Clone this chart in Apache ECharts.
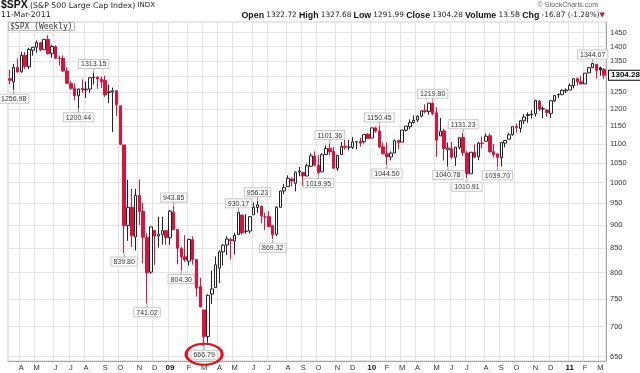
<!DOCTYPE html>
<html><head><meta charset="utf-8">
<script src="https://cdn.jsdelivr.net/npm/echarts@6/dist/echarts.min.js"></script>
<style>html,body{margin:0;padding:0;background:#fff}#c{width:640px;height:373px}</style>
</head><body><div id="c"></div>
<script>
// Weekly candles, dated by the last trading day of each week
const weeks = [
'2008-03-14','2008-03-20','2008-03-28','2008-04-04','2008-04-11','2008-04-18','2008-04-25','2008-05-02','2008-05-09','2008-05-16','2008-05-23','2008-05-30','2008-06-06','2008-06-13','2008-06-20','2008-06-27','2008-07-03','2008-07-11','2008-07-18','2008-07-25','2008-08-01','2008-08-08','2008-08-15','2008-08-22','2008-08-29','2008-09-05','2008-09-12','2008-09-19','2008-09-26','2008-10-03','2008-10-10','2008-10-17','2008-10-24','2008-10-31','2008-11-07','2008-11-14','2008-11-21','2008-11-28','2008-12-05','2008-12-12','2008-12-19','2008-12-26',
'2009-01-02','2009-01-09','2009-01-16','2009-01-23','2009-01-30','2009-02-06','2009-02-13','2009-02-20','2009-02-27','2009-03-06','2009-03-13','2009-03-20','2009-03-27','2009-04-03','2009-04-09','2009-04-17','2009-04-24','2009-05-01','2009-05-08','2009-05-15','2009-05-22','2009-05-29','2009-06-05','2009-06-12','2009-06-19','2009-06-26','2009-07-02','2009-07-10','2009-07-17','2009-07-24','2009-07-31','2009-08-07','2009-08-14','2009-08-21','2009-08-28','2009-09-04','2009-09-11','2009-09-18','2009-09-25','2009-10-02','2009-10-09','2009-10-16','2009-10-23','2009-10-30','2009-11-06','2009-11-13','2009-11-20','2009-11-27','2009-12-04','2009-12-11','2009-12-18','2009-12-24','2009-12-31',
'2010-01-08','2010-01-15','2010-01-22','2010-01-29','2010-02-05','2010-02-12','2010-02-19','2010-02-26','2010-03-05','2010-03-12','2010-03-19','2010-03-26','2010-04-01','2010-04-09','2010-04-16','2010-04-23','2010-04-30','2010-05-07','2010-05-14','2010-05-21','2010-05-28','2010-06-04','2010-06-11','2010-06-18','2010-06-25','2010-07-02','2010-07-09','2010-07-16','2010-07-23','2010-07-30','2010-08-06','2010-08-13','2010-08-20','2010-08-27','2010-09-03','2010-09-10','2010-09-17','2010-09-24','2010-10-01','2010-10-08','2010-10-15','2010-10-22','2010-10-29','2010-11-05','2010-11-12','2010-11-19','2010-11-26','2010-12-03','2010-12-10','2010-12-17','2010-12-23','2010-12-31',
'2011-01-07','2011-01-14','2011-01-21','2011-01-28','2011-02-04','2011-02-11','2011-02-18','2011-02-25','2011-03-04','2011-03-11'
];
const opens = [
1293.2,1283.2,1329.8,1315.9,1370.2,1332.2,1387.7,1397.9,1413.9,1389.4,1425.3,1375.9,1400.1,1360.8,1360.0,1317.9,1278.1,1262.9,1239.5,1261.8,1257.8,1260.3,1296.3,1298.1,1292.2,1287.8,1249.5,1250.9,1255.4,1209.1,1097.6,899.2,940.5,874.3,968.7,931.0,873.2,801.2,888.6,876.0,879.7,887.9,
872.4,929.2,890.4,849.6,832.5,823.1,868.2,826.8,773.2,729.6,683.3,758.8,771.0,809.1,842.5,856.9,868.3,865.2,879.2,922.8,886.1,887.0,923.3,940.4,943.4,918.1,919.0,898.6,880.0,940.6,979.6,990.2,1008.9,998.2,1026.6,1025.2,1016.4,1041.0,1067.9,1043.7,1026.9,1072.0,1088.2,1080.4,1036.2,1072.0,1094.1,1091.5,1091.1,1105.5,1107.0,1106.4,1127.3,
1116.6,1145.0,1136.0,1092.4,1073.9,1065.5,1075.9,1110.0,1105.4,1138.4,1148.5,1160.0,1167.7,1178.7,1194.9,1192.1,1217.1,1188.6,1122.3,1136.5,1084.8,1087.3,1064.9,1091.2,1117.7,1076.2,1022.1,1077.2,1066.0,1102.9,1107.5,1122.8,1079.3,1073.4,1062.9,1102.6,1113.4,1126.1,1148.6,1143.5,1165.3,1180.5,1184.7,1185.7,1223.2,1200.4,1196.7,1186.6,1224.0,1242.5,1243.9,1254.7,
1257.6,1270.8,1293.2,1283.3,1276.5,1311.9,1329.6,1340.4,1328.6,1322.72
];
const highs = [
1321.7,1341.5,1359.7,1380.9,1381.0,1395.9,1399.1,1421.6,1415.8,1425.8,1440.2,1406.3,1404.1,1369.0,1370.6,1330.4,1285.4,1278.5,1262.3,1291.2,1284.4,1297.9,1313.15,1300.7,1300.7,1303.0,1274.4,1265.1,1255.5,1209.1,1097.6,1006.9,985.4,984.4,1007.5,951.0,882.3,896.3,888.6,918.9,918.8,887.9,
934.7,943.85,890.4,852.5,877.9,870.7,875.0,826.8,790.2,729.6,758.3,804.5,832.9,845.6,858.4,875.6,871.8,883.0,930.17,922.8,924.6,920.0,951.7,956.23,943.4,928.0,931.9,898.6,943.0,979.8,996.7,1018.0,1013.1,1027.6,1039.5,1025.2,1048.2,1074.8,1080.2,1069.6,1075.3,1096.6,1101.36,1091.8,1071.5,1105.4,1113.7,1111.1,1119.1,1108.0,1117.7,1126.5,1130.4,
1145.4,1148.4,1150.45,1103.7,1104.7,1080.0,1112.4,1112.0,1139.0,1150.0,1169.2,1180.7,1181.4,1194.7,1213.9,1217.3,1219.80,1205.1,1173.6,1141.8,1104.3,1105.7,1092.0,1119.1,1131.23,1080.8,1078.2,1099.1,1106.4,1120.9,1128.8,1129.2,1100.1,1074.8,1105.1,1110.9,1131.5,1148.9,1157.2,1167.7,1184.4,1189.4,1196.1,1227.1,1227.1,1207.4,1198.9,1225.6,1241.0,1246.7,1259.4,1262.6,
1278.2,1293.2,1296.1,1302.7,1311.0,1330.0,1344.07,1340.4,1332.3,1327.68
];
const lows = [
1274.9,1256.98,1312.8,1312.3,1324.4,1324.4,1369.2,1379.5,1384.5,1388.3,1373.1,1362.1,1358.3,1335.5,1314.8,1277.7,1257.6,1225.4,1200.44,1248.6,1233.1,1248.2,1274.6,1261.1,1264.0,1236.3,1217.2,1133.5,1179.3,1097.6,839.80,865.8,852.9,845.3,899.7,818.7,741.02,798.0,815.7,851.4,857.7,857.1,
857.3,888.3,817.0,804.30,821.7,814.0,816.0,754.3,734.5,666.79,672.9,740.5,771.0,779.8,814.5,836.0,826.8,836.9,879.2,878.9,881.0,881.5,923.3,927.9,903.8,888.9,896.1,869.32,875.9,940.6,971.9,990.2,990.4,978.5,1016.1,991.0,1016.4,1039.5,1041.2,1019.95,1026.9,1072.0,1070.5,1033.4,1029.4,1072.0,1085.0,1083.0,1086.3,1085.9,1093.0,1101.4,1114.8,
1116.6,1131.4,1090.2,1071.6,1044.50,1056.5,1075.9,1086.0,1105.4,1134.6,1141.4,1156.5,1161.2,1175.1,1186.9,1183.7,1181.6,1065.8,1122.3,1055.9,1040.78,1060.5,1042.2,1085.7,1067.9,1010.91,1022.1,1063.3,1056.9,1088.0,1107.5,1076.6,1063.9,1039.70,1040.9,1091.2,1113.4,1122.8,1131.9,1131.9,1155.7,1159.7,1171.7,1177.7,1194.1,1173.0,1176.9,1173.6,1220.0,1232.9,1240.9,1248.2,
1257.6,1262.7,1271.3,1275.8,1276.5,1311.7,1326.9,1294.3,1302.6,1291.99
];
const closes = [
1288.1,1329.5,1315.2,1370.4,1332.8,1390.3,1397.8,1413.9,1388.3,1425.4,1375.9,1400.4,1360.7,1360.0,1317.9,1278.4,1262.9,1239.5,1260.7,1257.8,1260.3,1296.3,1298.2,1292.2,1282.8,1242.3,1251.7,1255.1,1213.3,1099.2,899.2,940.6,876.8,968.8,931.0,873.3,800.0,896.2,876.1,879.7,887.9,872.8,
931.8,890.4,850.1,832.0,825.9,868.6,826.8,770.1,735.1,683.4,756.6,768.5,815.9,842.5,856.6,869.6,866.2,877.5,929.2,882.9,887.0,919.1,940.1,946.2,921.2,918.9,896.4,879.1,940.4,979.3,987.5,1010.5,1004.1,1026.1,1028.9,1016.4,1042.7,1068.3,1044.4,1025.2,1071.5,1087.7,1079.6,1036.2,1069.3,1093.5,1091.4,1091.5,1106.0,1106.4,1102.5,1126.5,1115.1,
1145.0,1136.0,1091.8,1073.9,1066.2,1075.5,1109.2,1104.5,1138.7,1150.0,1159.9,1166.6,1178.1,1194.4,1192.1,1217.3,1186.7,1110.9,1135.7,1087.7,1089.4,1064.9,1091.6,1117.5,1076.8,1022.6,1078.0,1064.9,1102.7,1101.6,1121.6,1079.3,1071.7,1064.6,1104.5,1109.6,1125.6,1148.7,1146.2,1165.2,1176.2,1183.1,1183.3,1225.9,1199.2,1199.7,1189.4,1224.7,1240.4,1243.9,1256.8,1257.6,
1271.5,1293.2,1283.4,1276.3,1310.9,1329.2,1343.0,1319.9,1321.2,1304.28
];
const yTicks = [650,700,750,800,850,900,950,1000,1050,1100,1150,1200,1250,1300,1350,1400,1450];
const monthLetters = ['J','F','M','A','M','J','J','A','S','O','N','D'];
// annotated swing highs / lows (week index, value)
const annoIdx = [1,18,22,30,36,43,45,51,60,65,69,81,84,97,99,111,115,119,120,128,153];
const annoVal = [1256.98,1200.44,1313.15,839.80,741.02,943.85,804.30,666.79,930.17,956.23,869.32,1019.95,1101.36,1150.45,1044.50,1219.80,1040.78,1131.23,1010.91,1039.70,1344.07];
const circledValue = 666.79;
const header = {open:1322.72, high:1327.68, low:1291.99, close:1304.28, volume:'13.5B', chg:-16.87, chgPct:-1.28};

const RED = '#e0103a', BLACK = '#222';
const candleData = weeks.map((d,i)=>{
  const o=opens[i], c=closes[i];
  const prev = i>0 ? closes[i-1] : o;
  const col = c >= prev ? BLACK : RED;
  const fill = c < o ? col : '#fff';
  return {value:[o,c,lows[i],highs[i]], itemStyle:{color:fill,color0:fill,borderColor:col,borderColor0:col,borderWidth:1}};
});
const monthOf = s => parseInt(s.slice(5,7),10)-1;
const isMonthStart = (idx) => idx>0 && monthOf(weeks[idx]) !== monthOf(weeks[idx-1]);

const labelStyle = {fontSize:7, fontFamily:'Liberation Sans', color:'#333', backgroundColor:'#fff',
  borderColor:'#c8c8c8', borderWidth:1, padding:[1,2,0,2]};
const markData = annoIdx.map((idx,k)=>{
  const v = annoVal[k];
  const isHigh = Math.abs(highs[idx]-v) < 1e-6;
  return {coord:[weeks[idx], v], value:v, symbol:'rect', symbolSize:[1,4],
    symbolOffset:[0, isHigh?-2.5:2.5], itemStyle:{color:'#999'},
    label:Object.assign({show:true, position:isHigh?'top':'bottom', distance:0,
      formatter:p=>p.value.toFixed(2)}, labelStyle)};
});
const ci = annoVal.indexOf(circledValue);
markData.push({coord:[weeks[annoIdx[ci]], circledValue], value:circledValue, symbol:'circle',
  symbolSize:[36,21], symbolOffset:[0,8], itemStyle:{color:'rgba(0,0,0,0)', borderColor:'#e8101c', borderWidth:2.5},
  label:{show:false}, z:10});

const chart = echarts.init(document.getElementById('c'), null, {renderer:'canvas'});
const fmt2 = v => v.toFixed(2);
chart.setOption({
  animation:false,
  textStyle:{fontFamily:'Liberation Sans'},
  title:[
    {left:1, top:0, padding:0, text:'{a|$SPX} {b|(S&P 500 Large Cap Index)} {c|INDX}',
     textStyle:{fontSize:8, fontWeight:'normal', rich:{a:{fontSize:10.5,fontWeight:'bold',color:'#111',fontFamily:'Liberation Sans'},
       b:{fontSize:7.8,color:'#222',fontFamily:'DejaVu Sans'},c:{fontSize:7,color:'#222',fontFamily:'DejaVu Sans'}}}},
    {left:1, top:11, padding:0, text:'11-Mar-2011', textStyle:{fontSize:7.8,fontWeight:'normal',color:'#222',fontFamily:'DejaVu Sans'}},
    {right:42, top:2, padding:0, text:'© StockCharts.com', textStyle:{fontSize:7,fontWeight:'normal',color:'#666',fontFamily:'Liberation Sans'}},
    {right:35, top:11, padding:0, text:'{l|Open} {v|'+fmt2(header.open)+'} {l|High} {v|'+fmt2(header.high)+'} {l|Low} {v|'+fmt2(header.low)+'} {l|Close} {v|'+fmt2(header.close)+'} {l|Volume} {v|'+header.volume+'} {l|Chg} {v|'+fmt2(header.chg)+' ('+fmt2(header.chgPct)+'%)}{r|▼}',
     textStyle:{fontSize:8, fontWeight:'normal', fontFamily:'Liberation Sans', rich:{l:{fontSize:8.8,fontWeight:'bold',color:'#111',fontFamily:'Liberation Sans'},
       v:{fontSize:7.4,color:'#222',fontFamily:'DejaVu Sans'},r:{fontSize:7,color:'#d01030',fontFamily:'DejaVu Sans'}}}},
    {left:8, top:22, text:'$SPX (Weekly)', backgroundColor:'#fff', borderColor:'#bbb', borderWidth:1, padding:[1,2,0,2],
     textStyle:{fontSize:8,fontWeight:'normal',color:'#333',fontFamily:'DejaVu Sans Mono'}}
  ],
  grid:{left:8, right:34, top:22, bottom:12, show:true, borderColor:'#cfcfcf', borderWidth:1},
  xAxis:{type:'category', data:weeks, boundaryGap:true,
    axisLine:{show:true, lineStyle:{color:'#999', type:'dotted'}},
    axisTick:{show:false},
    axisLabel:{interval:(i)=>isMonthStart(i), margin:3, fontSize:7.5, color:'#333',
      formatter:(v)=>{const m=monthOf(v); return m===0 ? '{y|'+v.slice(2,4)+'}' : monthLetters[m];},
      rich:{y:{fontSize:8,fontWeight:'bold',color:'#111'}}},
    splitLine:{show:true, interval:(i)=>isMonthStart(i), lineStyle:{color:'#e4e4e4', width:1}}},
  yAxis:{type:'log', logBase:10, position:'right', min:643, max:1488,
    axisLine:{show:true, lineStyle:{color:'#999', type:'dotted'}},
    axisTick:{show:false, customValues:yTicks},
    axisLabel:{customValues:yTicks, fontSize:7.5, color:'#333', margin:4, formatter:(v)=>String(Math.round(v))},
    splitLine:{show:true, lineStyle:{color:'#e4e4e4', width:1}}},
  series:[{type:'candlestick', data:candleData, barWidth:3,
    markPoint:{data:markData, silent:true},
    markLine:{silent:true, symbol:'none', lineStyle:{color:'rgba(0,0,0,0)'},
      label:{show:true, position:'end', distance:3, formatter:p=>p.value.toFixed(2), fontSize:8, fontWeight:'bold',
        color:'#000', backgroundColor:'#fff', borderColor:'#000', borderWidth:1, padding:[1,2,0,2], fontFamily:'Liberation Sans'},
      data:[{yAxis:closes[closes.length-1]}]}
  }]
});
</script></body></html>
